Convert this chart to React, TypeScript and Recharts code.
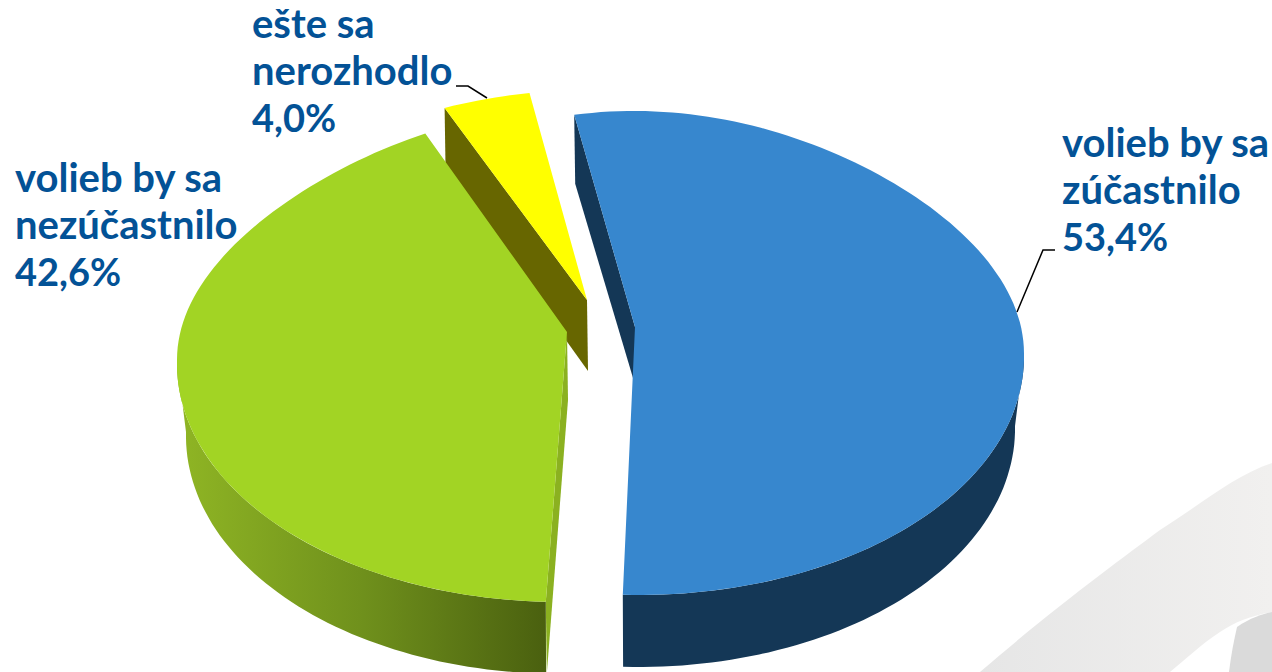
import React from 'react';
import { PieChart, Pie, Cell } from 'recharts';

// slice order follows the draw order: the yellow one sits behind the green one
const categories = ['ešte sa nerozhodlo', 'volieb by sa zúčastnilo', 'volieb by sa nezúčastnilo'];
const shares = [4.0, 53.4, 42.6];
const valueLabels = ['4,0%', '53,4%', '42,6%'];
const labelLines = [
  ['ešte sa', 'nerozhodlo'],
  ['volieb by sa', 'zúčastnilo'],
  ['volieb by sa', 'nezúčastnilo'],
];

const data = categories.map((name, i) => ({ name, value: shares[i] }));

const WIDTH = 1272;
const HEIGHT = 672;
const BASE_CX = 600;
const BASE_CY = 350;
const RADIUS = 390;

const topColors = ['#FFFF00', '#3787CE', '#A2D424'];
const TEXT_COLOR = '#035296';

// how each slice is pulled out of the pie and tilted
const sliceLook = [
  { dx: -11, dy: -60, ry: 200, ryTop: 200, narrow: 0.125, lean: 0, apex: [587, 300], apexDepth: 71, rimDepth: 64, depth: 0, wall: '#676600' },
  { dx: 34, dy: 4, ry: 241, ryTop: 243, narrow: 0.12, lean: 4, apex: [635, 327], apexDepth: 61, rimDepth: 69, depth: 72, wall: '#143756' },
  { dx: -33, dy: 10, ry: 242, ryTop: 250, narrow: 0.145, lean: -6, apex: [567, 332], apexDepth: 68, rimDepth: 72, depth: 72, wall: 'url(#greenWall)' },
];
const radialWallColors = ['#676600', '#143756', '#8BB120'];

const labelPlaces = [
  { x: 252, y: 38, step: 47 },
  { x: 1062, y: 157, step: 47 },
  { x: 15, y: 192, step: 47 },
];
const leaderLines = [
  '487,98 468,86 456,86',
  '1017,312 1043,250 1055,250',
  '',
];

const rimPoint = (look, cx, cy, theta, shrink = 0, down = 0) => {
  const t = (theta * Math.PI) / 180;
  const c = Math.cos(t);
  const top = c > 0 ? c * c : 0;
  const s = 1 - look.narrow * top;
  const ry = look.ry + (look.ryTop - look.ry) * top;
  const shift = c < 0 ? -c * look.lean : 0;
  return [cx + (RADIUS - shrink) * Math.sin(t) * s + shift, cy - ry * c + down];
};

const arcPoints = (look, cx, cy, from, to, shrink = 0, down = 0) => {
  const pts = [];
  const n = Math.max(2, Math.ceil(Math.abs(to - from) / 1.5));
  for (let i = 0; i <= n; i++) {
    pts.push(rimPoint(look, cx, cy, from + ((to - from) * i) / n, shrink, down));
  }
  return pts;
};

const toPath = (pts) => 'M' + pts.map((p) => p[0].toFixed(1) + ',' + p[1].toFixed(1)).join('L') + 'Z';

const Slice3D = (props) => {
  const { cx, cy, startAngle, endAngle, index } = props;
  const look = sliceLook[index];
  const x = cx + look.dx;
  const y = cy + look.dy;
  // recharts angles run counter-clockwise from 3 o'clock, theta clockwise from 12
  const from = 90 - startAngle;
  const to = 90 - endAngle;
  const rim = arcPoints(look, x, y, from, to);
  const [ax, ay] = look.apex;

  // the radial wall that faces the viewer
  const edgeTop = rimPoint(look, x, y, from);
  const radial = [
    [ax, ay],
    [ax + 1, ay + look.apexDepth],
    [edgeTop[0] + 1, edgeTop[1] + look.rimDepth],
    edgeTop,
  ];

  // outer wall, only the front half of the rim shows it
  const a = Math.max(from, 90);
  const b = Math.min(to, 270);
  const outer = look.depth && b > a
    ? [...arcPoints(look, x, y, a, b), ...arcPoints(look, x, y, b, a, 9, look.depth)]
    : null;

  return (
    <g>
      <linearGradient id="greenWall" gradientUnits="userSpaceOnUse" x1="180" y1="0" x2="547" y2="0">
        <stop offset="0" stopColor="#8FB524" />
        <stop offset="0.5" stopColor="#6F901C" />
        <stop offset="1" stopColor="#4A600F" />
      </linearGradient>
      <path d={toPath(radial)} fill={radialWallColors[index]} />
      {outer && <path d={toPath(outer)} fill={look.wall} />}
      <path d={toPath([[ax, ay], ...rim])} fill={props.fill} />
    </g>
  );
};

const SliceLabel = (props) => {
  const { index } = props;
  const place = labelPlaces[index];
  const lines = labelLines[index];
  return (
    <g>
      {leaderLines[index] && <polyline points={leaderLines[index]} fill="none" stroke="#000" strokeWidth={1.5} />}
      <text x={place.x} y={place.y} fill={TEXT_COLOR} fontFamily="Lato" fontWeight={700} fontSize={40}>
        {lines.map((l, i) => (
          <tspan key={i} x={place.x} y={place.y + i * place.step}>{l}</tspan>
        ))}
        <tspan x={place.x} y={place.y + lines.length * place.step} fontSize={38}>{valueLabels[index]}</tspan>
      </text>
    </g>
  );
};

const Backdrop = () => (
  <svg width={WIDTH} height={HEIGHT} style={{ position: 'absolute', left: 0, top: 0 }}>
    <defs>
      <linearGradient id="swoosh" x1="0" y1="0" x2="1" y2="0">
        <stop offset="0" stopColor="#E6E6E6" />
        <stop offset="1" stopColor="#F1F0EF" />
      </linearGradient>
    </defs>
    <path d="M980,672 C1060,603 1120,560 1160,530 C1200,505 1235,475 1272,463 L1272,612 C1250,616 1235,622 1220,632 C1200,645 1185,660 1170,672 Z" fill="url(#swoosh)" />
    <path d="M1229,672 C1231,655 1234,640 1237,627 C1250,618 1262,614 1272,612 L1272,672 Z" fill="#DADADA" />
  </svg>
);

export default function App() {
  return (
    <div style={{ position: 'absolute', left: 0, top: 0, width: WIDTH, height: HEIGHT, overflow: 'hidden', background: '#fff' }}>
      <Backdrop />
      <div style={{ position: 'absolute', left: 0, top: 0 }}>
        <PieChart width={WIDTH} height={HEIGHT} margin={{ top: 0, right: 0, bottom: 0, left: 0 }}>
          <Pie
            data={data}
            dataKey="value"
            nameKey="name"
            cx={BASE_CX}
            cy={BASE_CY}
            outerRadius={RADIUS}
            startAngle={114.4}
            endAngle={-245.6}
            stroke="none"
            shape={Slice3D}
            label={SliceLabel}
            labelLine={false}
            isAnimationActive={false}
          >
            {data.map((d, i) => (
              <Cell key={d.name} fill={topColors[i]} />
            ))}
          </Pie>
        </PieChart>
      </div>
    </div>
  );
}
